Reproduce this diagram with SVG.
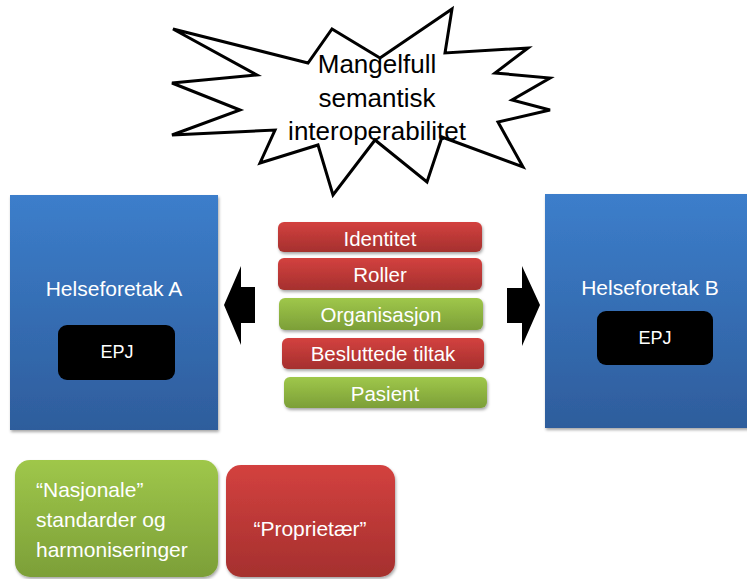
<svg xmlns="http://www.w3.org/2000/svg" width="747" height="579" viewBox="0 0 747 579">
  <defs>
    <linearGradient id="gBlue" x1="0" y1="0" x2="0" y2="1">
      <stop offset="0" stop-color="#3c7ecb"/>
      <stop offset="1" stop-color="#2e5d9c"/>
    </linearGradient>
    <linearGradient id="gRed" x1="0" y1="0" x2="0" y2="1">
      <stop offset="0" stop-color="#d3413f"/>
      <stop offset="1" stop-color="#a5302e"/>
    </linearGradient>
    <linearGradient id="gGreen" x1="0" y1="0" x2="0" y2="1">
      <stop offset="0" stop-color="#9fc74a"/>
      <stop offset="1" stop-color="#7c9f38"/>
    </linearGradient>
    <filter id="shadow" x="-10%" y="-10%" width="125%" height="130%">
      <feDropShadow dx="1" dy="2" stdDeviation="1.5" flood-color="#000" flood-opacity="0.35"/>
    </filter>
  </defs>
  <style>
    .t { font-family: "Liberation Sans", Arial, sans-serif; fill: #fff; }
    .c { text-anchor: middle; }
    .bar { font-size: 20.5px; }
    .big { font-size: 21px; }
    .epj { font-size: 18px; }
    .burst-text { font-family: "Liberation Sans", Arial, sans-serif; font-size: 26px; fill: #000; text-anchor: middle; }
  </style>

  <rect width="747" height="579" fill="#fff"/>

  <!-- explosion callout -->
  <g id="burst">
    <polygon points="173,29 308,63 332,29 380,58 452,9 445,53 528,48 495,73 550,78 512,100 550,110 498,122 523,167 442,137 427,182 375,140 333,195 318,145 260,163 275,130 172,135 240,110 172,83 257,75"
             fill="#fff" stroke="#000" stroke-width="3" stroke-linejoin="miter"/>
    <text class="burst-text" x="377" y="73">Mangelfull</text>
    <text class="burst-text" x="377" y="107">semantisk</text>
    <text class="burst-text" x="377" y="140">interoperabilitet</text>
  </g>

  <!-- health trust A -->
  <g id="helseforetak-a">
    <rect x="10" y="195" width="208" height="235" fill="url(#gBlue)" filter="url(#shadow)"/>
    <text class="t c big" x="114" y="296">Helseforetak A</text>
    <rect x="58" y="325" width="117" height="55" rx="9" fill="#000"/>
    <text class="t c epj" x="117" y="358">EPJ</text>
  </g>

  <!-- health trust B -->
  <g id="helseforetak-b">
    <rect x="545" y="194" width="210" height="234" fill="url(#gBlue)" filter="url(#shadow)"/>
    <text class="t c big" x="650" y="295">Helseforetak B</text>
    <rect x="597" y="311" width="116" height="54" rx="9" fill="#000"/>
    <text class="t c epj" x="655" y="344">EPJ</text>
  </g>

  <!-- information elements -->
  <g id="identitet">
    <rect x="278" y="222" width="204" height="30" rx="6" fill="url(#gRed)" filter="url(#shadow)"/>
    <text class="t c bar" x="380" y="246">Identitet</text>
  </g>
  <g id="roller">
    <rect x="278" y="258" width="204" height="32" rx="6" fill="url(#gRed)" filter="url(#shadow)"/>
    <text class="t c bar" x="380" y="282">Roller</text>
  </g>
  <g id="organisasjon">
    <rect x="279" y="298" width="204" height="32" rx="6" fill="url(#gGreen)" filter="url(#shadow)"/>
    <text class="t c bar" x="381" y="322">Organisasjon</text>
  </g>
  <g id="besluttede-tiltak">
    <rect x="282" y="338" width="202" height="31" rx="6" fill="url(#gRed)" filter="url(#shadow)"/>
    <text class="t c bar" x="383" y="361">Besluttede tiltak</text>
  </g>
  <g id="pasient">
    <rect x="284" y="377" width="203" height="31" rx="6" fill="url(#gGreen)" filter="url(#shadow)"/>
    <text class="t c bar" x="385" y="401">Pasient</text>
  </g>

  <!-- flow arrows -->
  <g id="connectors" fill="#000">
    <polygon points="224,305 241,266 241,287 255,287 255,323 241,323 241,345"/>
    <polygon points="540,305 522,266 522,288 507,288 507,323 522,323 522,346"/>
  </g>

  <!-- legend -->
  <g id="legend-nasjonale">
    <rect x="15" y="460" width="203" height="117" rx="15" fill="url(#gGreen)" filter="url(#shadow)"/>
    <text class="t big" x="36" y="497">“Nasjonale”</text>
    <text class="t big" x="36" y="527">standarder og</text>
    <text class="t big" x="36" y="557">harmoniseringer</text>
  </g>
  <g id="legend-proprietaer">
    <rect x="226" y="465" width="169" height="112" rx="15" fill="url(#gRed)" filter="url(#shadow)"/>
    <text class="t c big" x="310" y="536">“Proprietær”</text>
  </g>
</svg>
